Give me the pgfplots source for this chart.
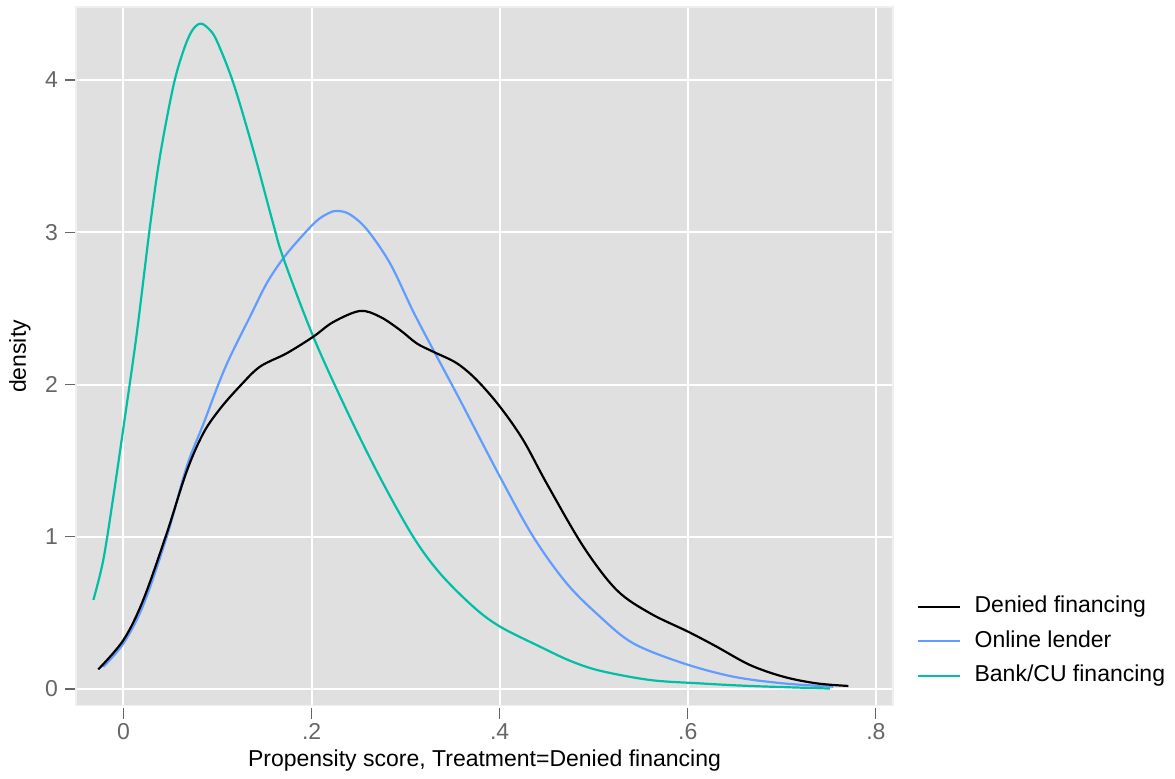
\documentclass[border=0pt]{standalone}
\usepackage{pgfplots}
\pgfplotsset{compat=1.18}
\usepackage{fontspec}
\setmainfont{Liberation Sans}
\definecolor{bgc}{RGB}{224,224,224}
\definecolor{tealc}{RGB}{0,191,165}
\definecolor{bluec}{RGB}{97,156,255}
\definecolor{tickc}{RGB}{102,102,102}
\newcommand{\fs}{\fontsize{11.5}{13.8}\selectfont}
\begin{document}
\begin{tikzpicture}
\path[use as bounding box] (-38pt,-36.2pt) rectangle (549.5pt,352.8pt);
\begin{axis}[
  at={(0,0)}, anchor=south west,
  scale only axis, width=408.5pt, height=349.15pt,
  xmin=-0.0505, xmax=0.8182, ymin=-0.109, ymax=4.4775,
  axis background/.style={fill=bgc},
  axis line style={draw=gray!12, line width=0.8pt},
  grid=major, major grid style={white, line width=1pt},
  xtick={0,0.2,0.4,0.6,0.8}, xticklabels={0,.2,.4,.6,.8},
  ytick={0,1,2,3,4}, yticklabels={0,1,2,3,4},
  tick pos=left,
  tick align=outside, major tick length=5.5pt,
  tick style={tickc, line width=0.6pt},
  xtick style={yshift=-1.2pt},
  ticklabel style={font=\fs, text=tickc},
  /pgf/number format/assume math mode=true,
  xlabel={Propensity score, Treatment=Denied financing},
  ylabel={density},
  label style={font=\fs, text=black},
  xlabel style={at={(axis description cs:0.5,0)}, anchor=center, yshift=-27.55pt},
  ylabel style={at={(axis description cs:-0.0685,0.5)}, anchor=center},
  legend style={at={(axis description cs:1,0)}, anchor=south west, xshift=11.5pt, yshift=9.3pt,
    draw=none, fill=none, font=\fs, inner sep=0pt, row sep=6.25pt,
    nodes={inner sep=0pt, text height=8.5pt, text depth=2.5pt},
    /tikz/every odd column/.append style={column sep=7pt}},
  legend cell align=left,
  legend image code/.code={\draw[#1] (0pt,0pt) -- (21pt,0pt);},
  every axis plot/.append style={line width=1.1pt, no markers, smooth, tension=0.55},
]
\addlegendimage{black, line width=1.1pt}
\addlegendentry{Denied financing}
\addlegendimage{bluec, line width=1.1pt}
\addlegendentry{Online lender}
\addlegendimage{tealc, line width=1.1pt}
\addlegendentry{Bank/CU financing}

% Online lender
\addplot[bluec, forget plot] coordinates {
(-0.0215,0.146) (0.000,0.30) (0.021,0.55) (0.046,1.0) (0.0672,1.46) (0.0849,1.74)
(0.1008,2.0) (0.1132,2.18) (0.1345,2.445) (0.1523,2.665) (0.17,2.83) (0.1877,2.96)
(0.2054,3.075) (0.218,3.125) (0.2267,3.14) (0.24,3.12) (0.2586,3.02) (0.2834,2.796)
(0.308,2.48) (0.3294,2.227) (0.3578,1.898) (0.4003,1.394) (0.4357,1.0) (0.4712,0.694)
(0.5067,0.475) (0.542,0.30) (0.5952,0.169) (0.6484,0.081) (0.7015,0.037) (0.7547,0.015)
};
% Bank/CU financing
\addplot[tealc, forget plot] coordinates {
(-0.032,0.585) (-0.0215,0.847) (-0.0108,1.263) (0.000,1.72) (0.014,2.33) (0.0282,3.04)
(0.0388,3.50) (0.053,3.96) (0.0636,4.19) (0.0725,4.32) (0.0813,4.37) (0.090,4.34)
(0.099,4.26) (0.1168,3.98) (0.138,3.54) (0.159,3.06) (0.17,2.83) (0.2018,2.314)
(0.2373,1.83) (0.2727,1.39) (0.308,1.0) (0.3365,0.76) (0.372,0.54) (0.4003,0.41)
(0.4429,0.278) (0.475,0.185) (0.5067,0.12) (0.56,0.059) (0.613,0.037)
(0.666,0.020) (0.751,0.003)
};
% Denied financing
\addplot[black, forget plot] coordinates {
(-0.0268,0.129) (0.000,0.322) (0.021,0.585) (0.046,1.023) (0.0672,1.43) (0.0849,1.68)
(0.1026,1.84) (0.1239,1.99) (0.1451,2.117) (0.1735,2.205) (0.2018,2.314) (0.223,2.41)
(0.2515,2.483) (0.2727,2.445) (0.294,2.358) (0.3118,2.27) (0.3294,2.215) (0.3543,2.14)
(0.3755,2.03) (0.4003,1.854) (0.425,1.635) (0.45,1.35) (0.489,0.935) (0.5244,0.65)
(0.56,0.497) (0.6005,0.376) (0.6307,0.278) (0.666,0.158) (0.7015,0.081) (0.737,0.037)
(0.7707,0.02)
};
\end{axis}
\end{tikzpicture}
\end{document}
